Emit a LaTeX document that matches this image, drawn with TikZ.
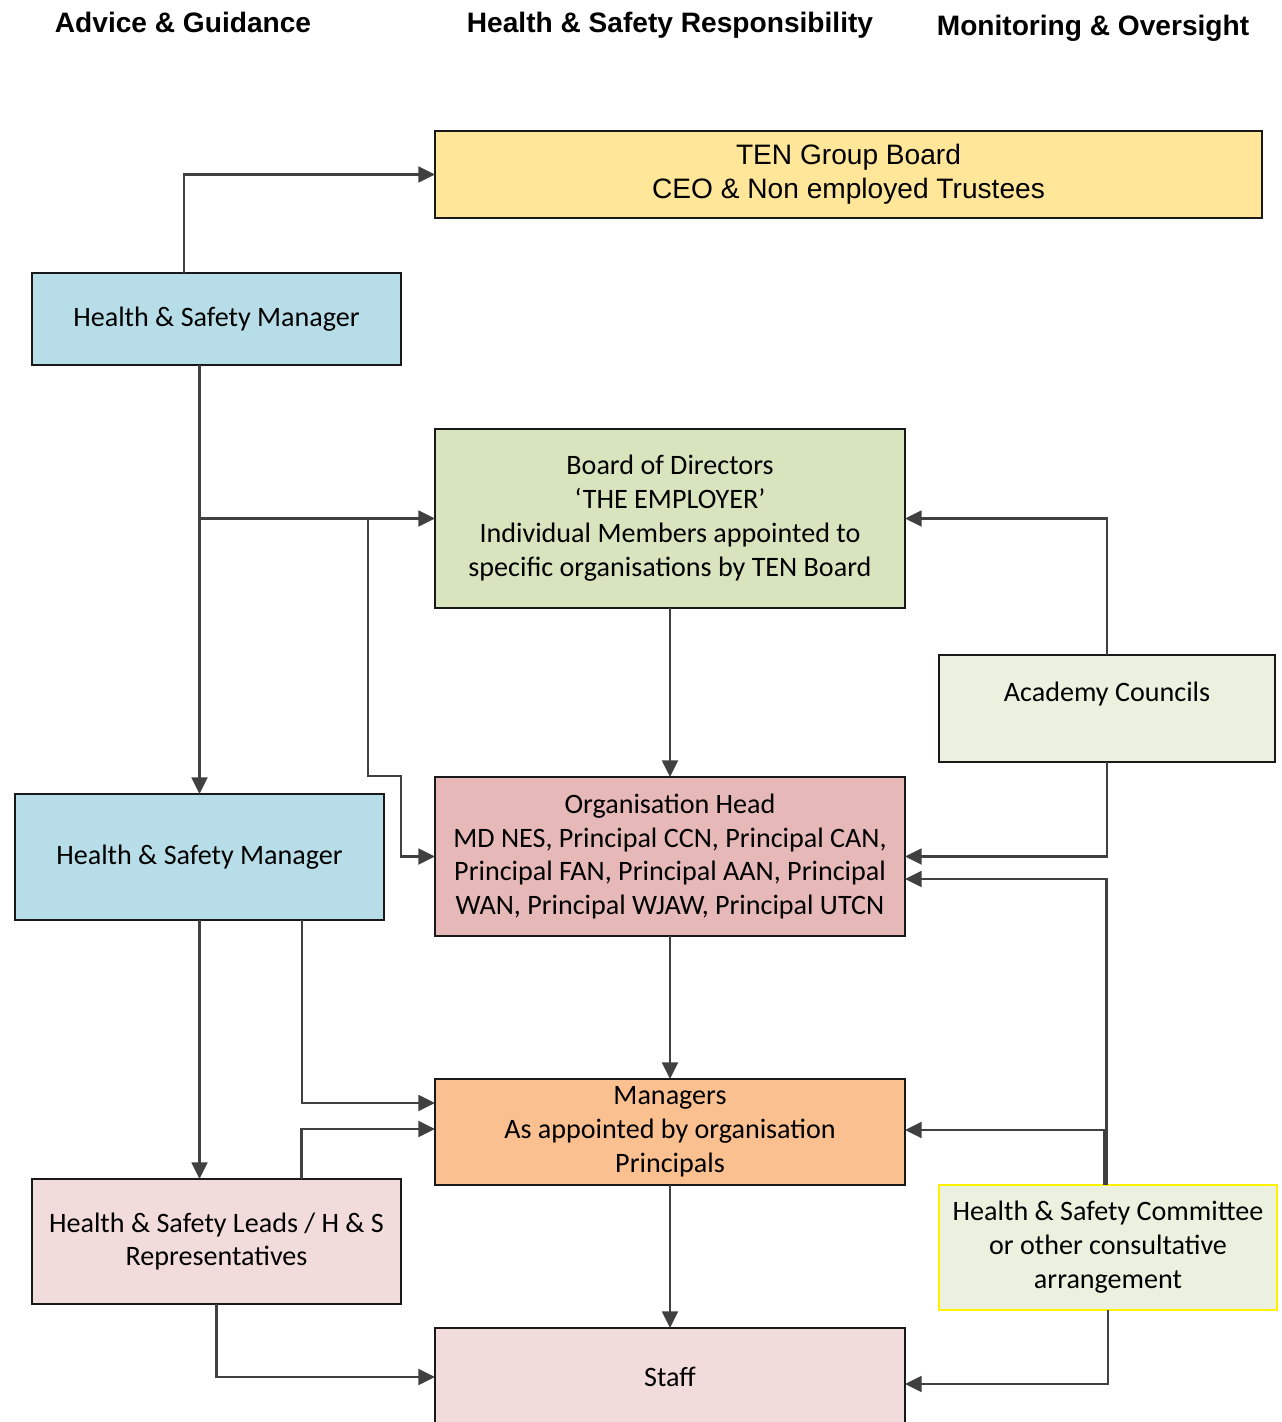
\documentclass[tikz,border=0pt]{standalone}
\usepackage{fontspec}
\setmainfont{Liberation Sans}
\newfontfamily\calfont{Carlito}
\usetikzlibrary{arrows.meta}

\definecolor{tenfill}{HTML}{FFE699}
\definecolor{hsmfill}{HTML}{B7DEE8}
\definecolor{boardfill}{HTML}{D7E4BD}
\definecolor{paleg}{HTML}{EBF1DE}
\definecolor{orgfill}{HTML}{E6B9B8}
\definecolor{mgrfill}{HTML}{FAC090}
\definecolor{pinkfill}{HTML}{F2DCDB}
\definecolor{connc}{HTML}{404040}

\begin{document}
\begin{tikzpicture}[x=0.02cm, y=-0.02cm]
    \tikzstyle{every node} = [inner sep=0pt, outer sep=0pt, align=center]
    \tikzstyle{box} = [draw=black!90, line width=0.9pt, font=\calfont\fontsize{16}{19.3}\selectfont]
    \tikzstyle{head} = [font=\bfseries\fontsize{16}{19.3}\selectfont, anchor=base]
    \tikzstyle{conn} = [draw=connc, line width=1.4pt, -{Triangle[length=9.5pt, width=9pt]}]
    \useasboundingbox (0,0) rectangle (1281,1422);

    \node[head] (h1) at (183,33) {Advice \& Guidance};
    \node[head] (h2) at (670,33) {Health \& Safety Responsibility};
    \node[head] (h3) at (1093,36) {Monitoring \& Oversight};

    \node (ten) [draw=black!90, line width=0.9pt, fill=tenfill, minimum width=16.54cm, minimum height=1.74cm,
        font=\fontsize{16}{19.3}\selectfont] at (848.5,174.5) {TEN Group Board\\CEO \& Non employed Trustees};
    \node (hsm1) [box, fill=hsmfill, minimum width=7.38cm, minimum height=1.84cm] at (216.5,319) {Health \& Safety Manager};
    \node (board) [box, fill=boardfill, minimum width=9.4cm, minimum height=3.58cm] at (670,518.5)
        {Board of Directors\\‘THE EMPLOYER’\\Individual Members appointed to\\specific organisations by TEN Board};
    \node (acad) [box, fill=paleg, minimum width=6.72cm, minimum height=2.14cm] at (1107,708.5) {Academy Councils\\\mbox{}};
    \node (hsm2) [box, fill=hsmfill, minimum width=7.38cm, minimum height=2.52cm] at (199.5,857) {Health \& Safety Manager};
    \node (org) [box, fill=orgfill, minimum width=9.4cm, minimum height=3.18cm] at (670,856.5)
        {Organisation Head\\MD NES, Principal CCN, Principal CAN,\\Principal FAN, Principal AAN, Principal\\WAN, Principal WJAW, Principal UTCN};
    \node (mgr) [box, fill=mgrfill, minimum width=9.4cm, minimum height=2.12cm] at (670,1132)
        {Managers\\As appointed by organisation\\Principals};
    \node (leads) [box, fill=pinkfill, minimum width=7.38cm, minimum height=2.5cm] at (216.5,1241.5)
        {Health \& Safety Leads / H \& S\\Representatives};
    \node (comm) [box, draw=yellow, fill=paleg, minimum width=6.76cm, minimum height=2.5cm] at (1108,1247.5)
        {Health \& Safety Committee\\or other consultative\\arrangement};
    \node (staff) [box, fill=pinkfill, minimum width=9.4cm, minimum height=1.96cm] at (670,1377) {Staff};

    \coordinate (k1) at (368,776);
    \coordinate (k2) at (401,776);

    % advice side
    \draw [conn] ([xshift=-0.65cm]hsm1.north) |- (ten.west);
    \draw [conn] (hsm1.south -| hsm2.north) -- (hsm2.north);
    \draw [conn] (board.west -| hsm2.north) -- (board.west);
    \draw [conn] (board.west -| k1) -- (k1) -- (k2) |- (org.west);
    \draw [conn] (hsm2.south) -- (hsm2.south |- leads.north);
    \draw [conn] ([xshift=2.05cm]hsm2.south) |- ([yshift=0.58cm]mgr.west);
    \draw [conn] ([xshift=1.7cm]leads.north) |- ([yshift=0.06cm]mgr.west);
    \draw [conn] (leads.south) |- (staff.west);

    % line of responsibility
    \draw [conn] (board.south) -- (org.north);
    \draw [conn] (org.south) -- (mgr.north);
    \draw [conn] (mgr.south) -- (staff.north);

    % oversight side
    \draw [conn] (acad.north) |- (board.east);
    \draw [conn] (acad.south) |- (org.east);
    \draw [conn] ([xshift=-0.03cm]comm.north) |- ([yshift=-0.45cm]org.east);
    \draw [conn] ([xshift=-0.07cm]comm.north) |- ([yshift=0.04cm]mgr.east);
    \draw [conn] (comm.south) |- ([yshift=-0.14cm]staff.east);
\end{tikzpicture}
\end{document}
